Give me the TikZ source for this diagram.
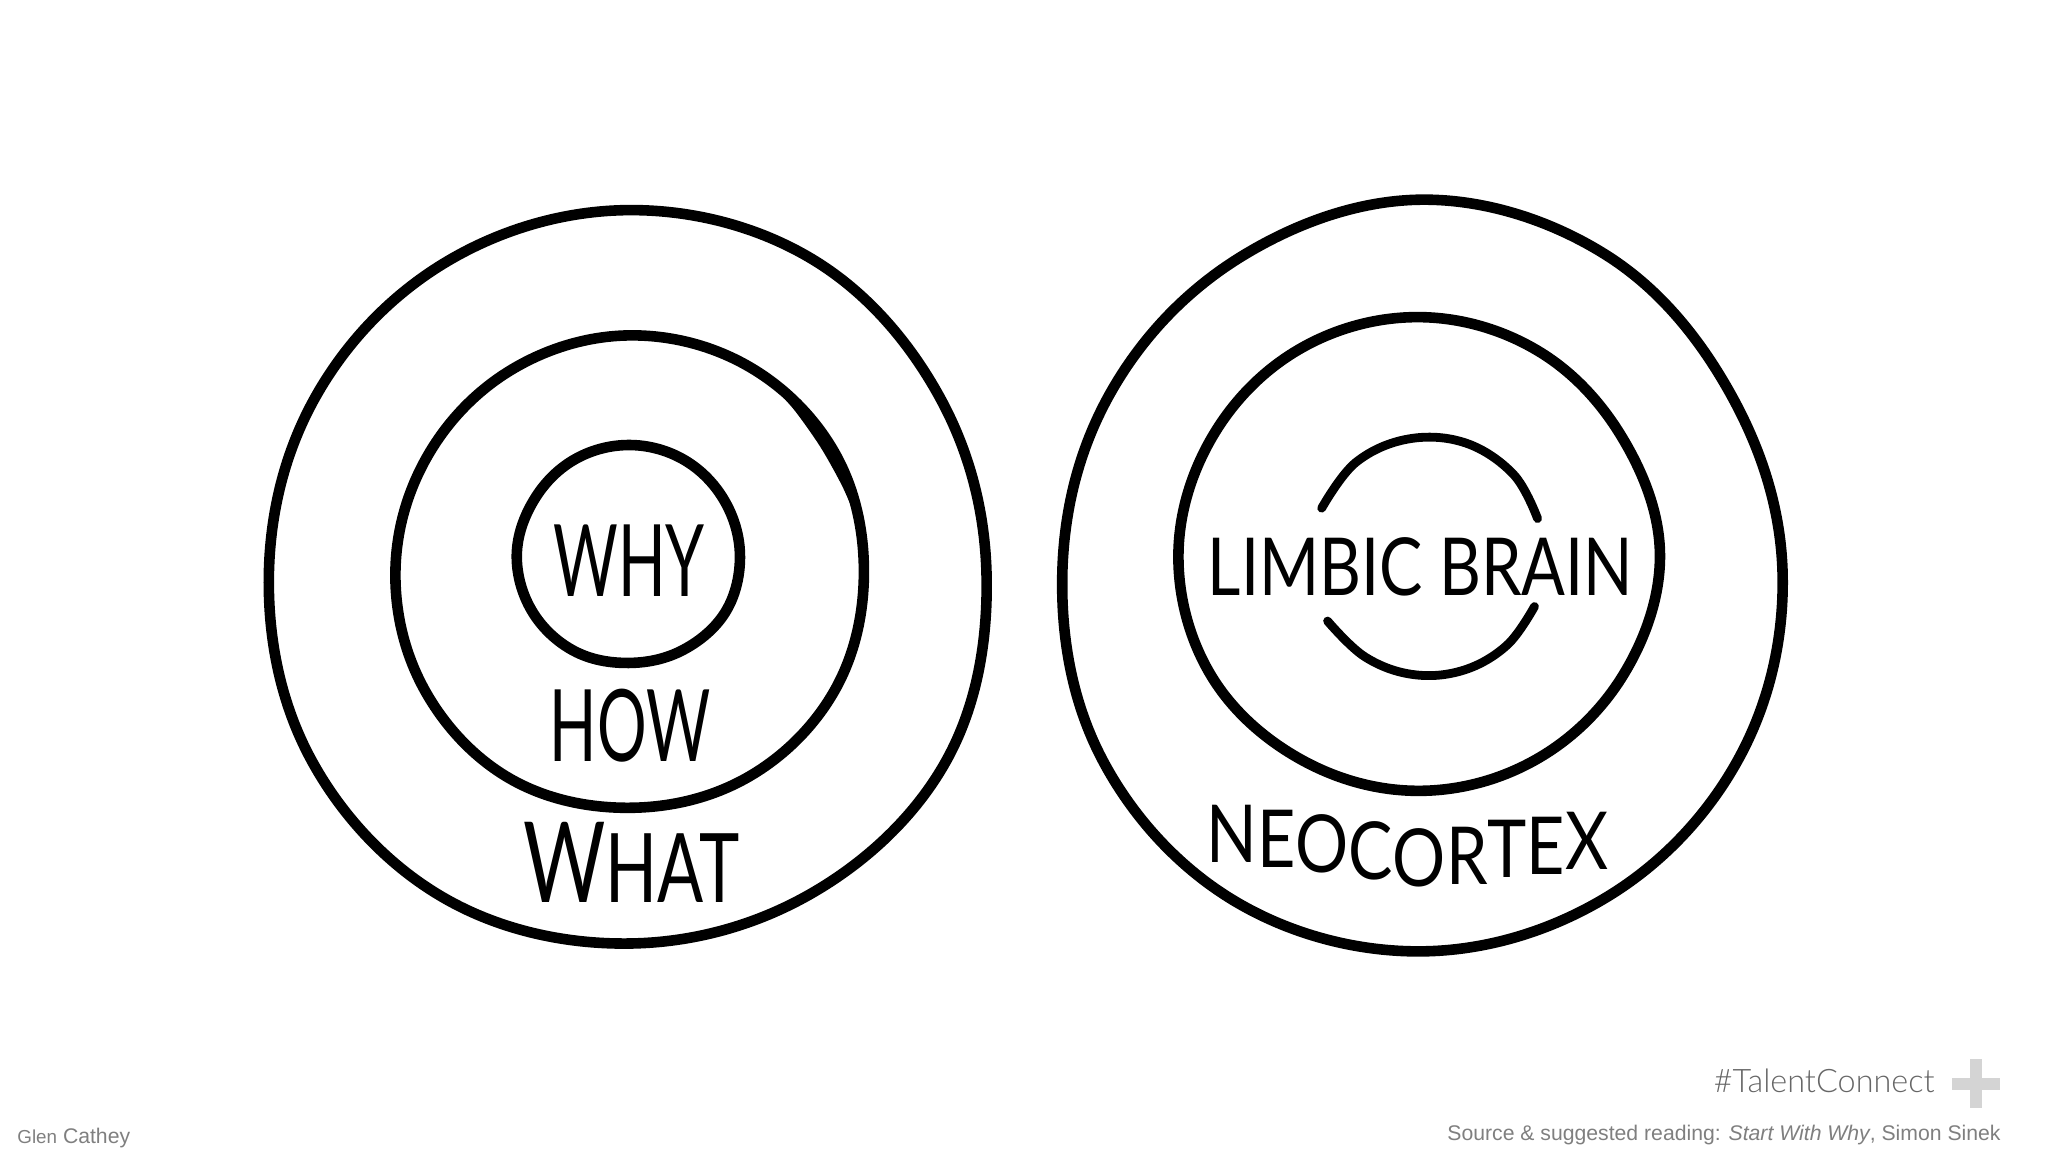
\documentclass[tikz,border=0pt]{standalone}
\usepackage{fontspec}
\usepackage{graphicx}
\setmainfont{Liberation Sans}
\newfontfamily\handfont{Lato}
\newfontfamily\thinfont{Lato Light}
\definecolor{footgray}{HTML}{7F7F7F}
\definecolor{taggray}{HTML}{666666}
\definecolor{plusgray}{HTML}{D4D4D4}
\tikzset{
  ring/.style={draw=black,line width=5.3pt,line join=round,line cap=round},
  thinring/.style={ring,line width=4.4pt},
  hand/.style={inner sep=0pt,text=black,anchor=base},
  foot/.style={inner sep=0pt,text=footgray,font=\fontsize{10.6}{12}\selectfont},
  shown/.style={x=0.6525pt,y=-0.6525pt},
}
\begin{document}
\begin{tikzpicture}[x=0.5pt,y=-0.5pt]
\useasboundingbox (0,0) rectangle (2048,1152);
\begin{scope}[shown]
  \begin{scope}[shift={(482,442)}]
    \draw[ring] plot[smooth cycle,tension=0.63] coordinates {(0:274) (30:281) (60:280) (90:281) (120:284) (150:281) (180:276) (210:277) (240:279) (270:281) (300:281) (330:275)};
  \end{scope}
  \begin{scope}[shift={(482,438)}]
    \draw[ring] plot[smooth cycle,tension=0.63] coordinates {(0:180) (30:182) (60:182) (90:181) (120:183) (150:181) (180:179) (210:178) (240:179) (270:181) (300:182) (330:182)};
    \fill[black] plot[smooth cycle,tension=0.5] coordinates {(308:180) (320:181) (335:181) (348:180) (338:176) (327:175) (316:177)};
  \end{scope}
  \begin{scope}[shift={(482,425)}]
    \draw[ring] plot[smooth cycle,tension=0.63] coordinates {(0:85) (30:86) (60:84) (90:83) (120:85) (150:86) (180:86) (210:84) (240:84) (270:84) (300:84) (330:84)};
  \end{scope}
  \begin{scope}[shift={(1090,441)}]
    \draw[ring] plot[smooth cycle,tension=0.63] coordinates {(0:276) (30:280) (60:284) (90:288) (120:288) (150:283) (180:276) (210:277) (240:281) (270:288) (300:283) (330:274)};
  \end{scope}
  \begin{scope}[shift={(1087,425)}]
    \draw[ring] plot[smooth cycle,tension=0.63] coordinates {(0:185) (30:182) (60:181) (90:181) (120:181) (150:184) (180:184) (210:182) (240:182) (270:182) (300:181) (330:180)};
  \end{scope}
  \begin{scope}[shift={(1095,426)}]
    \draw[thinring] plot[smooth,tension=0.63] coordinates {(204:90) (232:91) (260:91) (288:91) (316:90) (341:88)};
  \end{scope}
  \begin{scope}[shift={(1097,428)}]
    \draw[thinring] plot[smooth,tension=0.63] coordinates {(149:93) (124:91) (99:90) (74:89) (49:88) (25:87)};
  \end{scope}
\end{scope}
\begin{scope}[shift={(250,190)},x=0.25pt,y=-0.25pt]
  \node[hand,font=\handfont\fontsize{50}{50}\selectfont] (why) at (758,812) {\scalebox{0.625}[1]{WHY}};
  \node[hand,font=\handfont\fontsize{50}{50}\selectfont] (how) at (760,1143) {\scalebox{0.62}[1]{HOW}};
  \node[hand,font=\handfont\fontsize{48}{48}\selectfont] (what) at (763,1425) {\scalebox{0.71}[1]{{\fontsize{56}{56}\selectfont W}HAT}};
\end{scope}
\begin{scope}[shift={(1050,180)},x=0.25pt,y=-0.2564pt]
  \node[hand,font=\handfont\fontsize{40}{40}\selectfont] (limbic) at (741,810) {\scalebox{0.81}[1]{LIMBIC BRAIN}};
  \node[hand,anchor=base west,font=\handfont\fontsize{40}{40}\selectfont] (neo) at (312,1330) {\scalebox{0.83}[1]{N\raisebox{-2.5pt}{E}\raisebox{-5pt}{O}\raisebox{-8.75pt}{C}\raisebox{-12pt}{O}\raisebox{-11pt}{R}\raisebox{-7.5pt}{T}\raisebox{-6pt}{E}\raisebox{-3.75pt}{X}}};
\end{scope}
\node[foot,anchor=base west] (glen) at (17,1143) {{\fontsize{9.4}{12}\selectfont Glen} Cathey};
\node[foot,anchor=base east] (source) at (2001,1140) {Source \& suggested reading: \textit{Start With Why}, Simon Sinek};
\node[inner sep=0pt,anchor=base east,text=taggray,font=\thinfont\fontsize{16.2}{16}\selectfont] (tag) at (1935,1092) {\#TalentConnect};
\fill[plusgray] (1952,1078) rectangle (2000,1090);
\fill[plusgray] (1970,1059) rectangle (1982,1108);
\end{tikzpicture}
\end{document}
